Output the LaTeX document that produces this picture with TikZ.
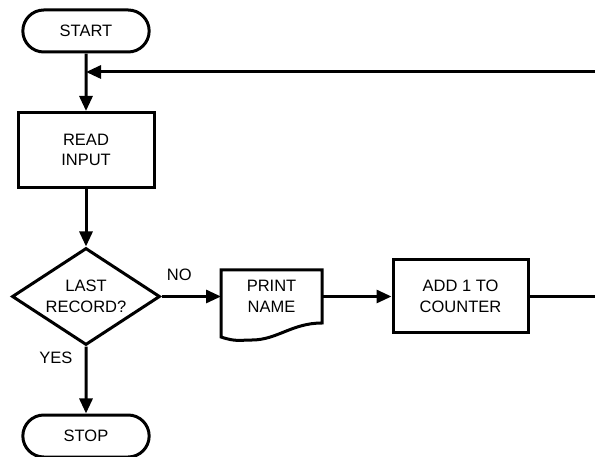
\documentclass[tikz,border=0pt]{standalone}
\usepackage{fontspec}
\setmainfont{Liberation Sans}
\usetikzlibrary{arrows.meta,shapes.geometric,shapes.misc}

\begin{document}
\begin{tikzpicture}[x=1pt,y=-1pt,>={Triangle[length=15pt,width=13pt]},line width=3pt,
  every node/.style={font=\fontsize{16.5}{20.5}\selectfont,align=center},
  term/.style={draw,rounded rectangle,minimum width=133pt,minimum height=42pt},
  procbox/.style={draw,rectangle,minimum width=136pt,minimum height=75pt},
  decision/.style={draw,diamond,aspect=1.5,inner sep=0pt,minimum width=148pt,minimum height=97pt},
  docbox/.style={rectangle,outer sep=0pt,minimum width=101pt,minimum height=53pt},
  lbl/.style={inner sep=0pt}]
  \useasboundingbox (0,0) rectangle (595,457);
  \node[term] (start) at (86,31) {START};
  \node[procbox] (read) at (86,150) {READ\\INPUT};
  \node[decision] (last) at (86,296.5) {LAST\\RECORD?};
  \node[docbox] (print) at (271.5,296.5) {PRINT\\NAME};
  \draw (print.south east) -- (print.north east) -- (print.north west) -- ++(0,67)
    .. controls +(15,5) and +(-12,0) .. ++(31,3) .. controls +(25,0) and +(-30,0) .. (print.south east) -- cycle;
  \node[procbox,minimum width=135pt,minimum height=73pt] (add) at (460.5,296.5) {ADD 1 TO\\COUNTER};
  \node[term] (stop) at (86,436) {STOP};
  \coordinate (loopin) at (595,72);
  \coordinate (loopout) at (595,296.5);
  \draw[->] (start) -- (read);
  \draw[->] (loopin) -- (loopin -| start);
  \draw[->] (read) -- (last);
  \draw[->] (last) -- (print) node[lbl,pos=0.3,above=14pt]{NO};
  \draw[->] (print) -- (add);
  \draw (add) -- (loopout);
  \draw[->] (last) -- (stop) node[lbl,pos=0.17,left=12pt]{YES};
\end{tikzpicture}
\end{document}
